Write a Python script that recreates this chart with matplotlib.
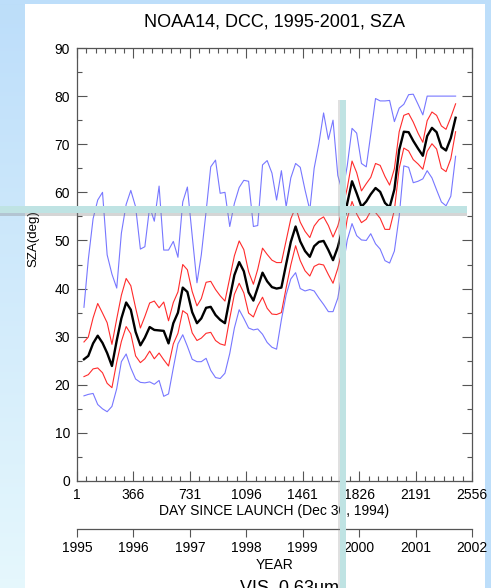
import numpy as np
import matplotlib
matplotlib.use("Agg")
import matplotlib.pyplot as plt
from matplotlib.ticker import FixedLocator, MultipleLocator
from matplotlib.patches import Rectangle

plt.rcParams['font.family'] = ['Liberation Sans', 'DejaVu Sans']

W, H = 491, 588
fig = plt.figure(figsize=(W / 100, H / 100), dpi=100)
fig.patch.set_facecolor('white')

# ---- data: monthly DCC solar zenith angle statistics (Feb 1995 - Sep 2001) ----
months = np.arange('1995-02', '2001-10', dtype='datetime64[M]')
day = ((months.astype('datetime64[D]') + 14) - np.datetime64('1995-01-01')).astype(int) + 1

sza_mean = [25.3, 26.0, 28.6, 30.2, 28.7, 26.6, 23.9, 29.2, 33.8, 37.1,
            35.6, 31.0, 28.2, 29.8, 32.0, 31.4, 31.3, 31.2, 28.6, 32.8,
            35.0, 40.2, 39.3, 35.1, 32.8, 33.8, 36.0, 36.2, 34.5, 33.5,
            32.8, 38.0, 42.8, 45.5, 43.6, 39.2, 37.5, 40.2, 43.3, 41.5,
            40.3, 40.0, 40.2, 45.1, 49.7, 52.9, 49.8, 47.8, 46.6, 48.8,
            49.7, 49.9, 48.0, 45.9, 48.6, 52.5, 57.7, 62.3, 59.8, 57.0,
            58.1, 59.6, 60.9, 60.1, 57.8, 56.9, 60.6, 68.8, 72.6, 72.5,
            70.7, 69.1, 67.6, 71.7, 73.4, 72.5, 69.4, 68.7, 71.3, 75.5]

sza_std = [3.6, 3.9, 5.3, 6.7, 6.2, 6.3, 4.5, 4.5, 4.8, 5.0,
           5.0, 5.0, 3.6, 4.4, 5.0, 6.0, 4.7, 6.0, 4.7, 4.3,
           4.3, 4.8, 4.6, 4.3, 3.6, 4.1, 5.3, 5.3, 5.3, 5.0,
           4.6, 4.2, 4.0, 4.4, 4.5, 4.3, 3.4, 3.8, 5.1, 5.6,
           5.6, 5.4, 5.2, 4.9, 4.8, 4.0, 4.0, 4.1, 4.0, 4.2,
           4.6, 5.0, 5.1, 4.8, 4.4, 4.2, 3.2, 4.2, 4.3, 3.3,
           3.7, 3.5, 5.1, 5.5, 5.5, 4.6, 4.3, 3.8, 3.4, 3.9,
           3.9, 3.2, 2.8, 3.2, 3.3, 3.5, 4.4, 4.4, 4.3, 2.9]

sza_min = [17.7, 18.0, 18.2, 15.9, 15.0, 14.4, 15.5, 19.2, 24.8, 26.4,
           23.5, 21.2, 20.5, 20.4, 20.6, 20.1, 20.9, 17.6, 18.1, 23.5,
           28.5, 30.4, 28.0, 25.3, 24.8, 24.8, 25.5, 23.0, 21.5, 21.3,
           22.4, 26.5, 31.8, 35.6, 33.8, 31.8, 31.4, 31.6, 30.5, 28.8,
           27.8, 27.4, 33.5, 38.7, 42.0, 43.3, 40.0, 39.5, 39.8, 39.5,
           38.0, 36.7, 35.2, 35.2, 38.0, 44.0, 50.1, 53.5, 51.0, 50.1,
           50.0, 51.4, 49.3, 48.2, 45.8, 45.3, 47.8, 55.0, 65.5, 65.2,
           62.0, 62.3, 62.8, 64.5, 63.0, 60.5, 58.0, 57.2, 59.2, 67.5]

sza_max = [36.1, 46.0, 54.5, 58.4, 60.0, 47.0, 43.0, 40.1, 51.5, 57.5,
           60.4, 57.0, 48.2, 48.7, 57.0, 54.0, 61.3, 48.0, 48.0, 49.8,
           46.5, 58.0, 61.1, 51.0, 41.2, 47.0, 56.0, 65.3, 66.7, 59.8,
           60.0, 52.9, 57.7, 61.0, 62.5, 62.3, 52.9, 53.1, 65.7, 66.6,
           64.0, 58.4, 64.5, 57.0, 63.0, 66.0, 65.2, 60.5, 56.3, 65.0,
           70.2, 76.5, 71.0, 75.0, 63.5, 60.0, 65.5, 73.3, 72.3, 66.0,
           65.3, 72.0, 79.5, 79.0, 79.0, 79.1, 74.7, 77.5, 78.3, 80.3,
           80.4, 78.3, 76.1, 80.0, 80.0, 80.0, 80.0, 80.0, 80.0, 80.0]

day_ticks = [1, 366, 731, 1096, 1461, 1826, 2191, 2556]
year_ticks = [1995, 1996, 1997, 1998, 1999, 2000, 2001, 2002]
sza_ticks = [0, 10, 20, 30, 40, 50, 60, 70, 80, 90]

mean = np.array(sza_mean)
std = np.array(sza_std)

# ---- slide background: pale blue frame on the left / top ----
bg = fig.add_axes([0, 0, 1, 1], zorder=0)
bg.set_xlim(0, W)
bg.set_ylim(H, 0)
bg.axis('off')
c_top = np.array([0.74, 0.87, 0.98])
c_bot = np.array([0.90, 0.97, 0.99])
t = np.linspace(0, 1, 256)[:, None, None]
strip = c_top * (1 - t) + c_bot * t
bg.imshow(np.repeat(strip, 2, axis=1), extent=[0, 25, H, 0], aspect='auto', zorder=0)
bg.add_patch(Rectangle((0, 0), W, 4, color=c_top, lw=0, zorder=0))
bg.add_patch(Rectangle((W - 6, 0), 6, H, color=c_top, lw=0, zorder=0))

# ---- main panel ----
gray = '#555555'
ax = fig.add_axes([77 / W, 1 - 481 / H, (472 - 77) / W, (481 - 48) / H], zorder=2)
ax.patch.set_alpha(0)
ax.plot(day, sza_max, color='#7777ff', lw=0.8)
ax.plot(day, sza_min, color='#7777ff', lw=0.8)
ax.plot(day, mean + std, color='#ff2b2b', lw=0.8)
ax.plot(day, mean - std, color='#ff2b2b', lw=0.8)
ax.plot(day, mean, color='black', lw=1.7)

ax.set_xlim(1, 2556)
ax.set_ylim(0, 90)
ax.xaxis.set_major_locator(FixedLocator(day_ticks))
ax.xaxis.set_minor_locator(MultipleLocator(365 / 6, offset=1))
ax.yaxis.set_major_locator(FixedLocator(sza_ticks))
ax.yaxis.set_minor_locator(MultipleLocator(5))
ax.tick_params(which='both', direction='in', top=True, right=True, color=gray,
               width=0.8, labelsize=10, pad=5)
ax.tick_params(which='major', length=7)
ax.tick_params(which='minor', length=3.5)
for s in ax.spines.values():
    s.set_color(gray)
    s.set_linewidth(0.9)
ax.set_xticklabels([str(d) for d in day_ticks])

fig.text(275 / W, 1 - 22 / H, 'NOAA14, DCC, 1995-2001, SZA', ha='center', va='center', fontsize=13)
fig.text(33 / W, 1 - 239 / H, 'SZA(deg)', rotation=90, ha='center', va='center', fontsize=9.5)
fig.text(274 / W, 1 - 511 / H, 'DAY SINCE LAUNCH (Dec 30, 1994)', ha='center', va='center', fontsize=10)

# ---- calendar-year axis underneath ----
yax = fig.add_axes([77 / W, 1 - 529 / H, (472 - 77) / W, 1e-4], zorder=2)
yax.patch.set_alpha(0)
for k in ('top', 'left', 'right'):
    yax.spines[k].set_visible(False)
yax.spines['bottom'].set_color(gray)
yax.spines['bottom'].set_linewidth(0.9)
yax.set_xlim(1995, 2002)
yax.set_yticks([])
yax.set_xticks(year_ticks)
yax.set_xticklabels([str(y) for y in year_ticks])
yax.tick_params(axis='x', direction='out', length=6, width=0.8, color=gray, labelsize=10, pad=3)
fig.text(275 / W, 1 - 565 / H, 'YEAR', ha='center', va='center', fontsize=10)
fig.text(289 / W, 1 - 579.5 / H, 'VIS, 0.63um', ha='center', va='top', fontsize=13)

# ---- teal crosshair overlay ----
ov = fig.add_axes([0, 0, 1, 1], zorder=5)
ov.set_xlim(0, W)
ov.set_ylim(H, 0)
ov.axis('off')
ov.patch.set_alpha(0)
teal = '#bfe3e3'
ov.add_patch(Rectangle((0, 212), 467, 4, color='#888888', alpha=0.35, lw=0))
ov.add_patch(Rectangle((0, 206), 467, 6.5, color=teal, lw=0))
ov.add_patch(Rectangle((338, 100), 3, H - 100, color='#999999', alpha=0.3, lw=0))
ov.add_patch(Rectangle((340.5, 100), 6, H - 100, color=teal, lw=0))

fig.savefig('out.png', dpi=100)
